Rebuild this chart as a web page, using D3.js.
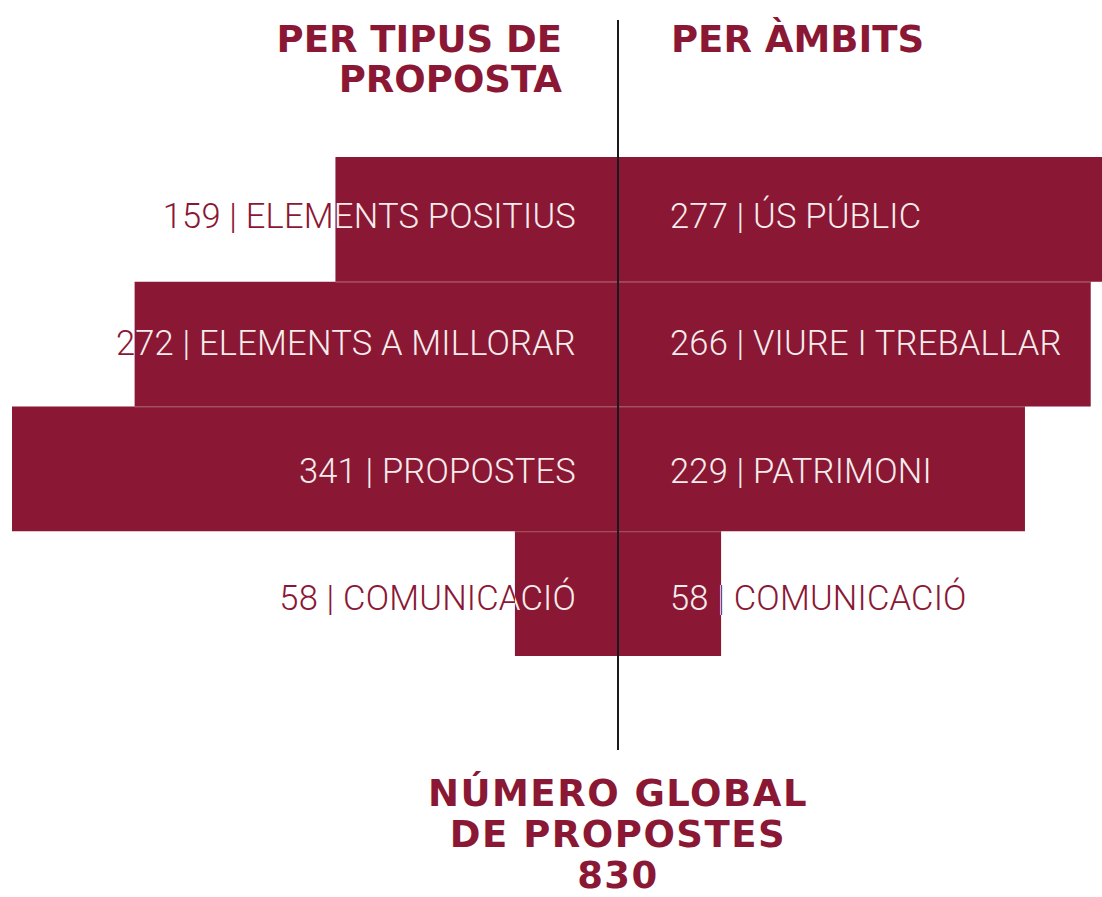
<!DOCTYPE html>
<html>
<head>
<meta charset="utf-8">
<script src="https://cdn.jsdelivr.net/npm/d3@7"></script>
<style>
  html, body { margin: 0; padding: 0; background: #fff; }
  svg { display: block; }
</style>
</head>
<body>
<script>
(function() {

  // Data
  var leftLabels = ["ELEMENTS POSITIUS", "ELEMENTS A MILLORAR", "PROPOSTES", "COMUNICACIÓ"];
  var leftValues = [159, 272, 341, 58];
  var rightLabels = ["ÚS PÚBLIC", "VIURE I TREBALLAR", "PATRIMONI", "COMUNICACIÓ"];
  var rightValues = [277, 266, 229, 58];
  var leftTitle = ["PER TIPUS DE", "PROPOSTA"];
  var rightTitle = ["PER ÀMBITS"];
  var footer = ["NÚMERO GLOBAL", "DE PROPOSTES", "830"];

  var width = 1102, height = 897;
  var mid = 618;
  var red = "#8a1734",
      light = "#f6ecec";
  var headFont = "'DejaVu Sans', Roboto, sans-serif";

  var svg = d3.select("body")
      .append("svg")
      .attr("width", width)
      .attr("height", height);

  // Scales
  var x = d3.scaleLinear()
      .domain([0, d3.max(leftValues.concat(rightValues))])
      .range([0, 606]);
  var y = d3.scaleBand()
      .domain(d3.range(leftValues.length))
      .range([157, 656])
      .padding(0);
  // label baselines sit on a slightly wider spacing than the bars
  var yLabel = d3.scalePoint()
      .domain(d3.range(leftValues.length))
      .range([228, 610]);

  var leftData = leftValues.map(function(v, i) { return {v: v, label: leftLabels[i], i: i}; });
  var rightData = rightValues.map(function(v, i) { return {v: v, label: rightLabels[i], i: i}; });

  // Clip paths built from the bars
  var defs = svg.append("defs");
  var clipL = defs.append("clipPath").attr("id", "clipL");
  clipL.selectAll("rect").data(leftData).enter().append("rect")
      .attr("x", function(d) { return mid - x(d.v); })
      .attr("y", function(d) { return y(d.i); })
      .attr("width", function(d) { return x(d.v); })
      .attr("height", y.bandwidth());
  var clipR = defs.append("clipPath").attr("id", "clipR");
  clipR.selectAll("rect").data(rightData).enter().append("rect")
      .attr("x", mid)
      .attr("y", function(d) { return y(d.i); })
      .attr("width", function(d) { return x(d.v); })
      .attr("height", y.bandwidth());

  // Bars
  svg.selectAll(".barL").data(leftData).enter().append("rect")
      .attr("class", "barL")
      .attr("x", function(d) { return mid - x(d.v); })
      .attr("y", function(d) { return y(d.i); })
      .attr("width", function(d) { return x(d.v); })
      .attr("height", y.bandwidth())
      .style("fill", red);
  svg.selectAll(".barR").data(rightData).enter().append("rect")
      .attr("class", "barR")
      .attr("x", mid)
      .attr("y", function(d) { return y(d.i); })
      .attr("width", function(d) { return x(d.v); })
      .attr("height", y.bandwidth())
      .style("fill", red);

  // faint separators between rows
  svg.selectAll(".sep").data(d3.range(1, leftValues.length)).enter().append("line")
      .attr("class", "sep")
      .attr("x1", function(i) { return mid - Math.min(x(leftValues[i]), x(leftValues[i - 1])); })
      .attr("x2", function(i) { return mid + Math.min(x(rightValues[i]), x(rightValues[i - 1])); })
      .attr("y1", function(i) { return y(i) + 0.5; })
      .attr("y2", function(i) { return y(i) + 0.5; })
      .style("stroke", "#a3505f")
      .style("stroke-width", 1);

  // Labels: red version everywhere, light version clipped to bars
  function labels(data, side, color, clip) {
    var g = svg.append("g");
    if (clip) g.attr("clip-path", "url(#" + clip + ")");
    g.selectAll("text").data(data).enter().append("text")
        .attr("x", side == "L" ? 576 : 670)
        .attr("y", function(d) { return yLabel(d.i); })
        .attr("text-anchor", side == "L" ? "end" : "start")
        .style("font-family", "Roboto, 'Noto Sans', sans-serif")
        .style("font-weight", 300)
        .style("font-size", "34.5px")
        .style("letter-spacing", "0.2px")
        .style("fill", color)
        .text(function(d) { return d.v + " | " + d.label; });
  }
  labels(leftData, "L", red, null);
  labels(leftData, "L", light, "clipL");
  labels(rightData, "R", red, null);
  labels(rightData, "R", light, "clipR");

  // Center line
  svg.append("line")
      .attr("x1", mid).attr("x2", mid)
      .attr("y1", 20).attr("y2", 750)
      .style("stroke", "#1a1a1a")
      .style("stroke-width", 2);

  // Titles
  function heading(lines, xPos, y0, anchor) {
    svg.append("g").selectAll("text").data(lines).enter().append("text")
        .attr("x", xPos)
        .attr("y", function(d, i) { return y0 + i * 40; })
        .attr("text-anchor", anchor)
        .style("font-family", headFont)
        .style("font-weight", "bold")
        .style("font-size", "37px")
        .style("fill", red)
        .text(function(d) { return d; });
  }
  heading(leftTitle, 562, 52, "end");
  heading(rightTitle, 671, 52, "start");

  svg.append("g").selectAll("text").data(footer).enter().append("text")
      .attr("x", mid)
      .attr("y", function(d, i) { return 806 + i * 41; })
      .attr("text-anchor", "middle")
      .style("font-family", headFont)
      .style("font-weight", "bold")
      .style("font-size", "37px")
      .style("letter-spacing", "1.5px")
      .style("fill", red)
      .text(function(d) { return d; });

})();
</script>
</body>
</html>
